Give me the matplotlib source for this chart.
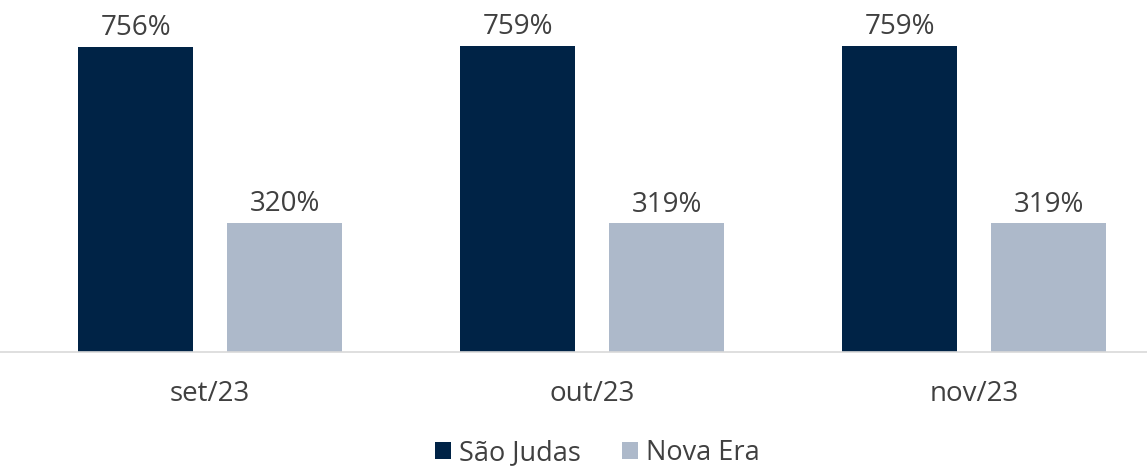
import numpy as np
import matplotlib.pyplot as plt

plt.rcParams['font.family'] = ['Open Sans', 'DejaVu Sans']

months = ['set/23', 'out/23', 'nov/23']
sao_judas = [756, 759, 759]
nova_era = [320, 319, 319]
series_names = ['São Judas', 'Nova Era']
colors = ['#002346', '#ADB9CA']
txt = '#404040'

fig = plt.figure(figsize=(11.47, 4.67), dpi=100)
ax = fig.add_axes([0, 0.246, 1, 0.6915])

x = np.arange(len(months))
w = 0.301
off = 0.195
b1 = ax.bar(x - off, sao_judas, w, color=colors[0], label=series_names[0])
b2 = ax.bar(x + off, nova_era, w, color=colors[1], label=series_names[1])

for bars, vals in [(b1, sao_judas), (b2, nova_era)]:
    for b, v in zip(bars, vals):
        ax.text(b.get_x() + b.get_width() / 2, v + 12, f'{v}%', ha='center', va='bottom',
                fontsize=20, color=txt)

ax.set_xlim(-0.55, 2.4526)
ax.set_ylim(0, 800)
ax.set_xticks(x)
ax.set_xticklabels(months, fontsize=20, color=txt)
ax.tick_params(axis='x', length=0, pad=20)
ax.set_yticks([])
for s in ['top', 'right', 'left']:
    ax.spines[s].set_visible(False)
ax.spines['bottom'].set_color('#D9D9D9')
ax.spines['bottom'].set_linewidth(1.2)

fig.legend(handles=[b1, b2], loc='center', bbox_to_anchor=(0.521, 0.03), ncol=2, frameon=False,
           fontsize=19.5, labelcolor=txt, handlelength=0.6, handleheight=0.6, handletextpad=0.3,
           columnspacing=1.5, borderpad=0.1)

fig.savefig('out.png', dpi=100)
